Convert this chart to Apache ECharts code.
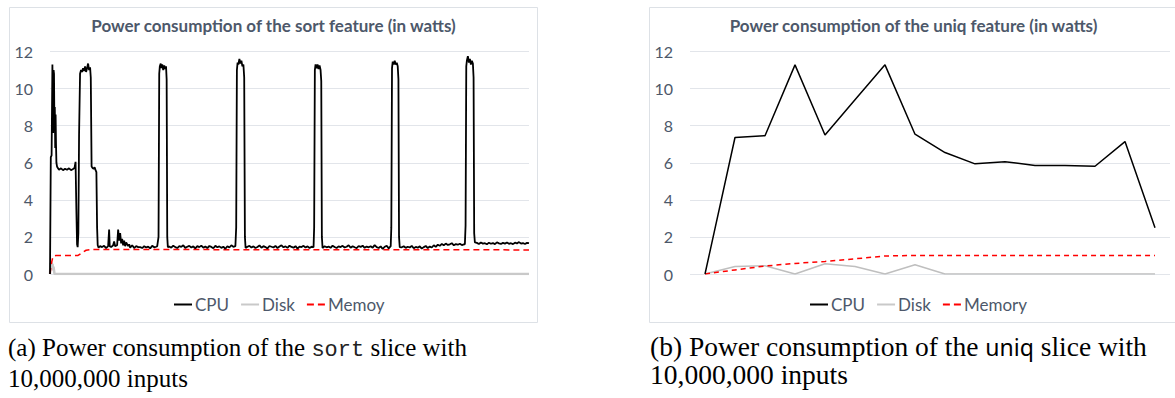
<!DOCTYPE html>
<html>
<head>
<meta charset="utf-8">
<script src="https://cdn.jsdelivr.net/npm/echarts@6/dist/echarts.min.js"></script>
<style>
  body { margin: 0; background: #fff; }
  #wrap { position: relative; width: 1175px; height: 398px; overflow: hidden; }
  #chart { position: absolute; left: 0; top: 0; width: 1175px; height: 330px; }
  .cap { position: absolute; font-family: 'Liberation Serif', serif; font-size: 25px; line-height: 28px; color: #000; white-space: nowrap; }
  .cap.wide { font-size: 27.5px; }
  .mono { font-family: 'Liberation Mono', monospace; font-size: 22px; color: #222; }
  .sans { font-family: 'Noto Sans', sans-serif; font-size: 23px; }
</style>
</head>
<body>
<div id="wrap">
  <div id="chart"></div>
  <div class="cap" style="left:8px;top:334px;">(a) Power consumption of the <span class="mono">sort</span> slice with<br>10,000,000 inputs</div>
  <div class="cap wide" style="left:650px;top:333px;">(b) Power consumption of the <span class="sans">uniq</span> slice with<br>10,000,000 inputs</div>
</div>
<script>
// sort slice: [sample, watts]
const sortCpu = [
  [0, 0], [0.8, 6.3], [1.6, 6.4], [2.4, 11.3], [2.8, 9.5], [3.2, 7.6], [3.6, 11.0], [4.0, 10.8],
  [4.4, 8.0], [4.8, 9.0], [5.2, 6.8], [5.6, 8.6], [6.0, 7.0], [6.4, 6.0], [7, 5.8], [8, 5.7],
  [9, 5.62], [11, 5.7], [13, 5.6], [15, 5.68], [17, 5.62], [19, 5.7], [21, 5.6], [23, 5.66],
  [24.5, 5.72], [25.5, 6.05], [26.3, 3.5], [27, 1.6], [27.6, 1.45], [28.3, 2.2], [29, 7.5],
  [30, 10.8], [31, 11.0], [32, 10.9], [33, 11.1], [34, 10.95], [35, 11.2], [36, 10.9], [37, 11.1],
  [38, 11.35], [39, 11.0], [40, 11.15], [40.7, 10.6], [41.5, 5.8], [42.5, 5.72], [43.5, 5.68],
  [44.5, 5.75], [45.5, 5.6], [46.3, 5.5], [47, 2.5], [47.6, 1.55], [48.5, 1.42], [50, 1.5],
  [52, 1.45], [54, 1.52], [56, 1.4], [58, 1.5], [59, 2.4], [59.6, 1.5], [61, 1.45], [63, 1.55],
  [64, 1.75], [65, 1.5], [67, 1.55], [68, 2.4], [69, 1.8], [70, 2.2], [71, 1.65], [72, 1.9],
  [73, 1.55], [74, 1.8], [75, 1.5], [76, 1.7], [78, 1.5], [79, 1.6], [80, 1.42], [82, 1.55],
  [84, 1.4], [86, 1.5], [88, 1.45],
  [90, 1.45], [92, 1.40], [94, 1.50], [96, 1.43], [98, 1.48], [100, 1.38], [102, 1.52], [104, 1.44], [106, 1.47],
  [107, 1.5], [108.3, 2.0], [109, 10.8], [109.6, 11.2], [110.5, 11.35], [111.3, 11.1], [112, 11.3],
  [113, 11.0], [114, 11.25], [115, 11.05], [115.8, 11.2], [116.4, 10.5], [117, 2.0], [117.6, 1.45],
  [119, 1.48], [121, 1.42], [123, 1.53], [125, 1.45], [127, 1.40], [129, 1.50], [131, 1.46], [133, 1.55],
  [135, 1.41], [137, 1.47], [139, 1.52], [141, 1.43], [143, 1.49], [145, 1.38], [147, 1.50], [149, 1.45],
  [151, 1.53], [153, 1.42], [155, 1.48], [157, 1.40], [159, 1.51], [161, 1.46], [163, 1.39], [165, 1.52],
  [167, 1.44], [169, 1.49], [171, 1.41], [173, 1.47], [175, 1.36], [177, 1.50], [179, 1.43], [181, 1.55],
  [183, 1.46],
  [185, 1.5], [185.8, 2.5], [186.5, 11.0], [187.2, 11.4], [188, 11.3], [189, 11.6], [190, 11.35],
  [191, 11.5], [192, 11.2], [193, 11.3], [193.8, 10.6], [194.5, 2.0], [195.2, 1.4],
  [197, 1.47], [199, 1.52], [201, 1.43], [203, 1.49], [205, 1.40], [207, 1.46], [209, 1.54], [211, 1.42],
  [213, 1.50], [215, 1.45], [217, 1.38], [219, 1.51], [221, 1.47], [223, 1.43], [225, 1.52], [227, 1.40],
  [229, 1.48], [231, 1.55], [233, 1.44], [235, 1.49], [237, 1.41], [239, 1.53], [241, 1.46], [243, 1.42],
  [245, 1.50], [247, 1.37], [249, 1.48], [251, 1.45], [253, 1.52], [255, 1.43], [257, 1.49], [259, 1.40],
  [261, 1.47],
  [263, 1.45], [263.6, 2.5], [264.3, 11.0], [265, 11.3], [266, 11.1], [267, 11.3], [268, 11.05],
  [269, 11.25], [270, 11.0], [270.7, 10.4], [271.3, 2.0], [272, 1.4],
  [274, 1.50], [276, 1.44], [278, 1.48], [280, 1.41], [282, 1.53], [284, 1.46], [286, 1.40], [288, 1.49],
  [290, 1.45], [292, 1.52], [294, 1.43], [296, 1.47], [298, 1.55], [300, 1.42], [302, 1.50], [304, 1.44],
  [306, 1.39], [308, 1.51], [310, 1.46], [312, 1.53], [314, 1.41], [316, 1.48], [318, 1.44], [320, 1.50],
  [322, 1.42], [324, 1.56], [326, 1.45], [328, 1.40], [330, 1.49], [332, 1.35], [334, 1.47], [336, 1.52],
  [338, 1.38],
  [340, 1.5], [340.6, 2.5], [341.3, 11.1], [342, 11.45], [343, 11.3], [344, 11.5], [345, 11.3],
  [346, 11.4], [347, 11.2], [347.7, 10.5], [348.3, 2.0], [349, 1.45],
  [351, 1.44], [353, 1.50], [355, 1.41], [357, 1.47], [359, 1.43], [361, 1.52], [363, 1.39], [365, 1.46],
  [367, 1.42], [369, 1.49], [371, 1.37], [373, 1.45], [375, 1.51], [377, 1.40], [379, 1.48], [381, 1.43],
  [383, 1.55], [385, 1.46], [387, 1.58], [389, 1.52], [391, 1.62], [393, 1.55], [395, 1.64], [397, 1.57],
  [399, 1.60], [401, 1.66], [403, 1.55], [405, 1.61], [407, 1.58], [409, 1.63], [411, 1.56], [413, 1.60],
  [414, 1.6], [414.7, 2.6], [415.4, 11.2], [416, 11.5], [417, 11.75], [418, 11.4], [419, 11.6],
  [420, 11.3], [421, 11.5], [422, 11.35], [422.7, 10.6], [423.3, 2.2], [424, 1.7],
  [426, 1.68], [428, 1.62], [430, 1.70], [432, 1.64], [434, 1.66], [436, 1.60], [438, 1.69], [440, 1.63],
  [442, 1.67], [444, 1.61], [446, 1.71], [448, 1.65], [450, 1.62], [452, 1.68], [454, 1.64], [456, 1.70],
  [458, 1.63], [460, 1.66], [462, 1.61], [464, 1.69], [466, 1.65], [468, 1.72], [470, 1.64], [472, 1.67],
  [474, 1.62], [476, 1.68], [478, 1.66]
];
const sortDisk = [[0, 0], [0.5, 0.6], [1.0, 0.3], [1.5, 0.65], [2.0, 0.35], [2.5, 0.55], [3.0, 0.2], [3.5, 0.4], [4.5, 0], [478, 0]];
const sortMem = [[0, 0], [1.5, 0.6], [3, 0.95], [6, 1.0], [28, 1.0], [32, 1.15], [36, 1.28], [42, 1.32], [478, 1.3]];

// uniq slice
const uniqSteps = ['1', '2', '3', '4', '5', '6', '7', '8', '9', '10', '11', '12', '13', '14', '15', '16'];
const uniqCpu = [0, 7.36, 7.46, 11.28, 7.5, 9.4, 11.28, 7.54, 6.55, 5.94, 6.06, 5.85, 5.85, 5.81, 7.14, 2.5];
const uniqDisk = [0, 0.4, 0.45, 0, 0.55, 0.4, 0, 0.5, 0, 0, 0, 0, 0, 0, 0, 0];
const uniqMem = [0, 0.22, 0.43, 0.57, 0.68, 0.82, 0.97, 1.0, 1.0, 1.0, 1.0, 1.0, 1.0, 1.0, 1.0, 1.0];

const yTicks = { min: 0, max: 12, interval: 2 };

const textColor = '#4d586a';
const font = 'Lato';
const lineIcon = 'rect';
const dashIcon = 'path://M0,0h7v2h-7z M11,0h7v2h-7z';

const chart = echarts.init(document.getElementById('chart'), null, { renderer: 'svg' });

function yAxis(idx) {
  return {
    type: 'value',
    gridIndex: idx,
    min: yTicks.min,
    max: yTicks.max,
    interval: yTicks.interval,
    axisLine: { show: false },
    axisTick: { show: false },
    axisLabel: { color: textColor, fontSize: 16, fontFamily: font, margin: 17 },
    splitLine: { lineStyle: { color: '#e2e5ea', width: 1 } },
  };
}

function titleOf(text, center) {
  return {
    text: text,
    left: center,
    top: 17,
    padding: 0,
    textAlign: 'center',
    textStyle: { color: textColor, fontSize: 17, fontWeight: 'bold', fontFamily: font },
  };
}

function legendOf(names, left) {
  return {
    data: [
      { name: names[0], icon: lineIcon },
      { name: names[1], icon: lineIcon },
      { name: names[2], icon: dashIcon },
    ],
    left: left,
    top: 296,
    padding: 0,
    itemWidth: 18,
    itemHeight: 2,
    itemGap: 12,
    textStyle: { color: textColor, fontSize: 17, fontFamily: font, padding: [0, 0, 0, -2] },
    selectedMode: false,
  };
}

const option = {
  animation: false,
  backgroundColor: '#fff',
  graphic: [
    { type: 'rect', shape: { x: 9.5, y: 7.5, width: 528, height: 315 }, style: { fill: 'none', stroke: '#dde1e6', lineWidth: 1 }, z: -1 },
    { type: 'rect', shape: { x: 649.5, y: 7.5, width: 532, height: 315 }, style: { fill: 'none', stroke: '#dde1e6', lineWidth: 1 }, z: -1 },
  ],
  title: [
    titleOf('Power consumption of the sort feature (in watts)', 273.5),
    titleOf('Power consumption of the uniq feature (in watts)', 913.5),
  ],
  legend: [
    legendOf(['CPU', 'Disk', 'Memoy'], 174),
    legendOf(['CPU', 'Disk', 'Memory'], 810),
  ],
  grid: [
    { left: 50, top: 51.5, width: 479, height: 222.5 },
    { left: 690, top: 51.5, width: 480, height: 222.5 },
  ],
  xAxis: [
    { type: 'value', gridIndex: 0, min: 0, max: 478, show: false },
    {
      type: 'category', gridIndex: 1, data: uniqSteps, boundaryGap: true,
      axisLine: { show: false }, axisTick: { show: false }, axisLabel: { show: false },
    },
  ],
  yAxis: [yAxis(0), yAxis(1)],
  series: [
    { name: 'Disk', type: 'line', xAxisIndex: 0, yAxisIndex: 0, data: sortDisk, symbol: 'none',
      lineStyle: { color: '#c9c9c9', width: 2.5 }, itemStyle: { color: '#c9c9c9' } },
    { name: 'Memoy', type: 'line', xAxisIndex: 0, yAxisIndex: 0, data: sortMem, symbol: 'none',
      lineStyle: { color: '#ff0000', width: 1.5, type: [6, 4] }, itemStyle: { color: '#ff0000' } },
    { name: 'CPU', type: 'line', xAxisIndex: 0, yAxisIndex: 0, data: sortCpu, symbol: 'none',
      lineStyle: { color: '#000', width: 1.8 }, itemStyle: { color: '#000' } },
    { name: 'Disk', type: 'line', xAxisIndex: 1, yAxisIndex: 1, data: uniqDisk, symbol: 'none',
      lineStyle: { color: '#bfbfbf', width: 1.5 }, itemStyle: { color: '#bfbfbf' } },
    { name: 'Memory', type: 'line', xAxisIndex: 1, yAxisIndex: 1, data: uniqMem, symbol: 'none',
      lineStyle: { color: '#ff0000', width: 1.5, type: [5, 4] }, itemStyle: { color: '#ff0000' } },
    { name: 'CPU', type: 'line', xAxisIndex: 1, yAxisIndex: 1, data: uniqCpu, symbol: 'none',
      lineStyle: { color: '#000', width: 1.5 }, itemStyle: { color: '#000' } },
  ],
};

chart.setOption(option);
</script>
</body>
</html>
